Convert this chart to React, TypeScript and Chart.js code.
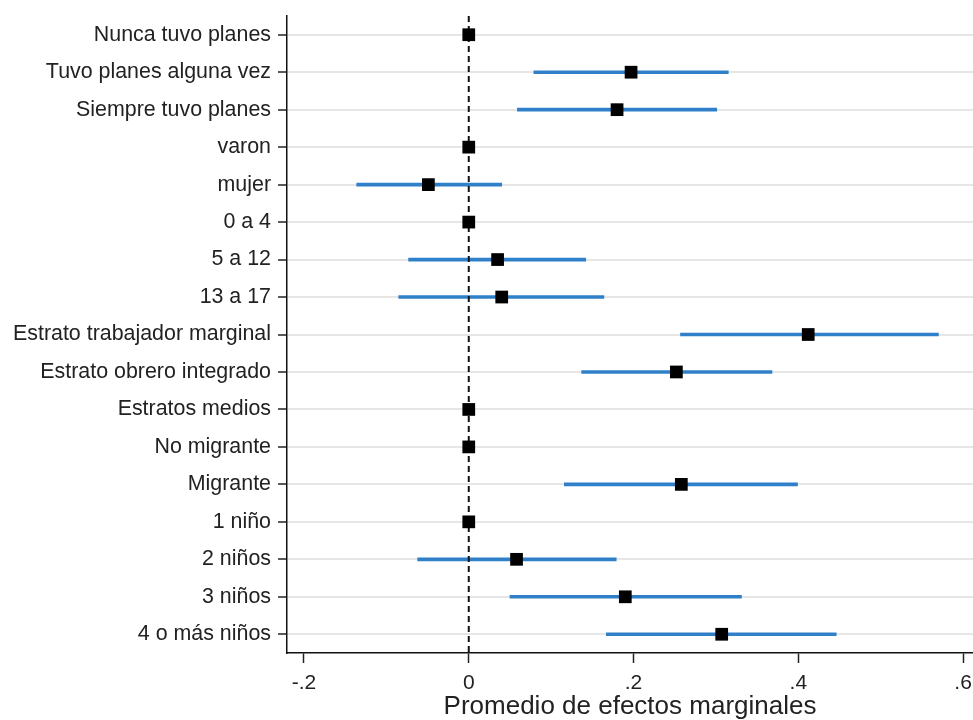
import { useEffect, useRef } from 'react'
import { Chart, registerables, Plugin } from 'chart.js'

Chart.register(...registerables)

const categories = [
  'Nunca tuvo planes',
  'Tuvo planes alguna vez',
  'Siempre tuvo planes',
  'varon',
  'mujer',
  '0 a 4',
  '5 a 12',
  '13 a 17',
  'Estrato trabajador marginal',
  'Estrato obrero integrado',
  'Estratos medios',
  'No migrante',
  'Migrante',
  '1 niño',
  '2 niños',
  '3 niños',
  '4 o más niños',
]

// point estimates (average marginal effects)
const estimates = [0, 0.197, 0.18, 0, -0.049, 0, 0.035, 0.04, 0.412, 0.252, 0, 0, 0.258, 0, 0.058, 0.19, 0.307]
// 95% CI bounds, null = reference category
const ciLow = [null, 0.079, 0.059, null, -0.136, null, -0.073, -0.085, 0.257, 0.137, null, null, 0.116, null, -0.062, 0.05, 0.167]
const ciHigh = [null, 0.315, 0.301, null, 0.04, null, 0.142, 0.164, 0.57, 0.368, null, null, 0.399, null, 0.179, 0.331, 0.446]

const xTicks = [-0.2, 0, 0.2, 0.4, 0.6]

const FONT = '"Liberation Sans", Arial, sans-serif'

function formatTick(v: number) {
  if (Math.abs(v) < 1e-9) return '0'
  return v.toFixed(1).replace('0.', '.')
}

// dashed reference line at zero, drawn over the CI bars
const zeroLine: Plugin = {
  id: 'zeroLine',
  afterDatasetDraw(chart, args) {
    if (args.index !== 1) return
    const { ctx, chartArea, scales } = chart
    const x = scales.x.getPixelForValue(0)
    ctx.save()
    ctx.beginPath()
    ctx.setLineDash([6, 4])
    ctx.lineWidth = 2
    ctx.strokeStyle = '#111'
    ctx.moveTo(x, chartArea.top)
    ctx.lineTo(x, chartArea.bottom)
    ctx.stroke()
    ctx.restore()
  },
}

export default function App() {
  const canvasRef = useRef<HTMLCanvasElement>(null)
  const chartRef = useRef<Chart | null>(null)

  useEffect(() => {
    if (!canvasRef.current) return
    chartRef.current?.destroy()

    const ciData = categories.map((_, i) =>
      ciLow[i] === null ? null : [ciLow[i] as number, ciHigh[i] as number]
    )

    chartRef.current = new Chart(canvasRef.current, {
      type: 'bar',
      data: {
        labels: categories,
        datasets: [
          {
            type: 'line',
            label: 'Efecto',
            data: estimates,
            indexAxis: 'y',
            showLine: false,
            pointStyle: 'rect',
            pointRadius: 9,
            pointBackgroundColor: '#000',
            pointBorderColor: '#000',
            pointBorderWidth: 0,
            order: 0,
          } as any,
          {
            type: 'bar',
            label: 'IC 95%',
            data: ciData as any,
            backgroundColor: '#2f80c8',
            barThickness: 3,
            borderWidth: 0,
            borderSkipped: false,
            order: 1,
          },
        ],
      },
      options: {
        indexAxis: 'y',
        animation: false,
        responsive: true,
        maintainAspectRatio: false,
        layout: { autoPadding: false, padding: { top: 16, right: 0, left: 6, bottom: 0 } },
        plugins: {
          legend: { display: false },
          tooltip: { enabled: false },
        },
        scales: {
          x: {
            type: 'linear',
            min: -0.2206,
            max: 0.612,
            afterBuildTicks: axis => {
              axis.ticks = xTicks.map(v => ({ value: v }))
            },
            afterFit: axis => {
              // let the ".6" label run off the right edge, as in the original
              axis.paddingRight = 0
              // tick padding is counted twice in the height; keep the title close to the labels
              axis.height -= 10
            },
            ticks: {
              color: '#222',
              font: { family: FONT, size: 21, lineHeight: 1 },
              padding: 10,
              maxRotation: 0,
              callback: v => formatTick(Number(v)),
            },
            grid: {
              drawOnChartArea: false,
              drawTicks: true,
              tickLength: 10,
              tickColor: '#222',
              tickWidth: 1.5,
            },
            border: { color: '#111', width: 1.5 },
            title: {
              display: true,
              text: 'Promedio de efectos marginales',
              color: '#222',
              font: { family: FONT, size: 26, lineHeight: 1 },
              padding: { top: 0, bottom: 0 },
            },
          },
          y: {
            type: 'category',
            offset: true,
            afterFit: axis => {
              axis.paddingTop = 0
              axis.paddingBottom = 0
            },
            ticks: {
              color: '#222',
              font: { family: FONT, size: 21.4 },
              padding: 7,
              autoSkip: false,
            },
            grid: {
              offset: false,
              color: '#e6e6e6',
              lineWidth: 2,
              tickColor: '#222',
              tickWidth: 1.5,
              tickLength: 9,
            },
            border: { color: '#111', width: 1.5 },
          },
        },
      },
      plugins: [zeroLine],
    })

    return () => {
      chartRef.current?.destroy()
      chartRef.current = null
    }
  }, [])

  return (
    <div style={{ position: 'absolute', left: 0, top: 0, width: 973, height: 720, background: '#fff' }}>
      <canvas ref={canvasRef} aria-label="Promedio de efectos marginales" role="img" />
    </div>
  )
}
